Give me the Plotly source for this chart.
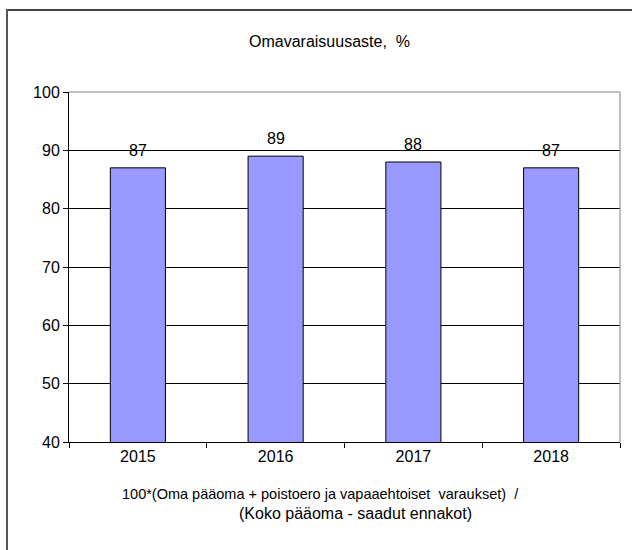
import plotly.graph_objects as go

years = ["2015", "2016", "2017", "2018"]
values = [87, 89, 88, 87]
y_ticks = [40, 50, 60, 70, 80, 90, 100]
title_text = "Omavaraisuusaste,  %"
x_title_line1 = "100*(Oma pääoma + poistoero ja vapaaehtoiset  varaukset)  /"
x_title_line2 = "(Koko pääoma - saadut ennakot)"

W, H = 632, 550
L, R, T, B = 69, 12, 92, 108
pw, ph = W - L - R, H - T - B

def px_x(px):
    return (px - L) / pw

def px_y(py):
    return (H - B - py) / ph

font = dict(family="Liberation Sans, Arial, sans-serif", size=16, color="#000000")
font_small = dict(family="Liberation Sans, Arial, sans-serif", size=14.5, color="#000000")

fig = go.Figure()
fig.add_trace(go.Bar(
    x=years, y=values,
    width=0.4,
    marker=dict(color="#9999FF", line=dict(color="#000000", width=1)),
    hoverinfo="skip",
))

for i, v in enumerate(values):
    fig.add_annotation(x=i, y=v, text=str(v), showarrow=False,
                       yanchor="bottom", yshift=7, font=font)

fig.add_annotation(xref="paper", yref="paper", x=px_x(329), y=px_y(41),
                   text=title_text, showarrow=False, font=font,
                   xanchor="center", yanchor="middle")

fig.add_annotation(xref="paper", yref="paper", x=px_x(320), y=px_y(494),
                   text=x_title_line1, showarrow=False, font=font_small,
                   xanchor="center", yanchor="middle")
fig.add_annotation(xref="paper", yref="paper", x=px_x(355), y=px_y(513),
                   text=x_title_line2, showarrow=False, font=font,
                   xanchor="center", yanchor="middle")

# outer chart border: top and left edges (frame clipped at right/bottom)
fig.add_shape(type="line", xref="paper", yref="paper", layer="above",
              x0=px_x(6), x1=px_x(640), y0=px_y(10), y1=px_y(10),
              line=dict(color="#444444", width=2))
fig.add_shape(type="line", xref="paper", yref="paper", layer="above",
              x0=px_x(7), x1=px_x(7), y0=px_y(9), y1=px_y(560),
              line=dict(color="#555555", width=2))

# plot area border top and right (gray)
fig.add_shape(type="line", xref="paper", yref="paper",
              x0=0, x1=1, y0=1, y1=1, line=dict(color="#808080", width=1))
fig.add_shape(type="line", xref="paper", yref="paper",
              x0=1, x1=1, y0=0, y1=1, line=dict(color="#808080", width=1))

fig.update_layout(
    width=W, height=H,
    margin=dict(l=L, r=R, t=T, b=B),
    paper_bgcolor="white", plot_bgcolor="white",
    showlegend=False,
    font=font,
    bargap=0.6,
)
fig.update_xaxes(
    type="category",
    showline=True, linecolor="#000000", linewidth=1,
    ticks="outside", ticklen=5, tickcolor="#000000",
    tickson="boundaries",
    showgrid=False,
    tickfont=font,
    range=[-0.5, 3.5],
)
fig.update_yaxes(
    range=[40, 100],
    tickvals=y_ticks,
    showline=True, linecolor="#000000", linewidth=1,
    ticks="outside", ticklen=5, tickcolor="#000000",
    showgrid=True, gridcolor="#000000", gridwidth=1,
    zeroline=False,
    tickfont=font,
)

fig.write_html(
    "out.html", config={"displayModeBar": False},
    post_script=("document.body.style.margin='0px';"
                 "document.body.style.padding='0px';"
                 "document.documentElement.style.overflow='hidden';"
                 "window.scrollTo(0,0);"),
)
